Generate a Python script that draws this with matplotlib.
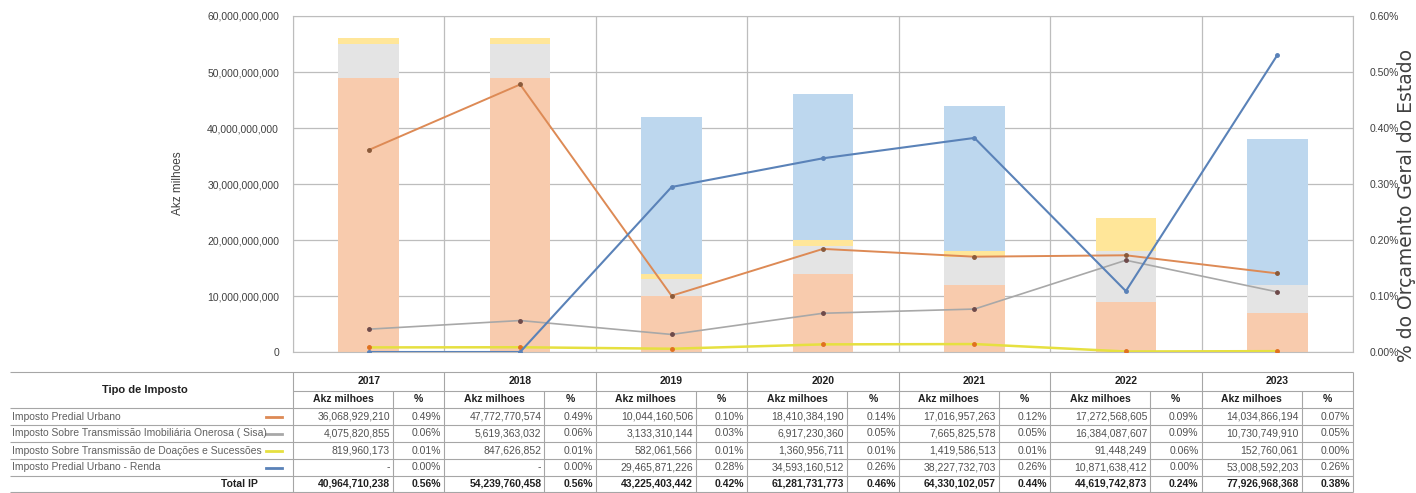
import matplotlib
matplotlib.use("Agg")
import matplotlib.pyplot as plt
import numpy as np

years = ['2017', '2018', '2019', '2020', '2021', '2022', '2023']
tax_names = [
    'Imposto Predial Urbano',
    'Imposto Sobre Transmissão Imobiliária Onerosa ( Sisa)',
    'Imposto Sobre Transmissão de Doações e Sucessões',
    'Imposto Predial Urbano - Renda',
]
ipu_akz = [36068929210, 47772770574, 10044160506, 18410384190, 17016957263, 17272568605, 14034866194]
sisa_akz = [4075820855, 5619363032, 3133310144, 6917230360, 7665825578, 16384087607, 10730749910]
doacoes_akz = [819960173, 847626852, 582061566, 1360956711, 1419586513, 91448249, 152760061]
renda_akz = [0, 0, 29465871226, 34593160512, 38227732703, 10871638412, 53008592203]
total_akz = [40964710238, 54239760458, 43225403442, 61281731773, 64330102057, 44619742873, 77926968368]

ipu_pct = [0.49, 0.49, 0.10, 0.14, 0.12, 0.09, 0.07]
sisa_pct = [0.06, 0.06, 0.03, 0.05, 0.05, 0.09, 0.05]
doacoes_pct = [0.01, 0.01, 0.01, 0.01, 0.01, 0.06, 0.00]
renda_pct = [0.00, 0.00, 0.28, 0.26, 0.26, 0.00, 0.26]
total_pct = [0.56, 0.56, 0.42, 0.46, 0.44, 0.24, 0.38]

left_ticks = [0, 10e9, 20e9, 30e9, 40e9, 50e9, 60e9]
right_ticks = [0.0, 0.1, 0.2, 0.3, 0.4, 0.5, 0.6]

bar_colors = ['#F8CBAD', '#E4E4E4', '#FFE699', '#BDD7EE']
line_colors = ['#DD8A55', '#A8A8A8', '#E6E040', '#5A82B8']
marker_colors = ['#8A5A3A', '#6E4A4A', '#E07020', '#5A82B8']

plt.rcParams['font.family'] = ['Liberation Sans', 'DejaVu Sans']

W, H = 1416, 493
fig = plt.figure(figsize=(W / 100, H / 100), dpi=100)
fig.patch.set_facecolor('white')

# plot area in pixels
p_left, p_right, p_top, p_bottom = 293, 1353, 16, 352
ax = fig.add_axes([p_left / W, 1 - p_bottom / H, (p_right - p_left) / W, (p_bottom - p_top) / H])

x = np.arange(len(years))

# stacked % bars (right axis scale)
base = np.zeros(len(years))
for vals, col in zip([ipu_pct, sisa_pct, doacoes_pct, renda_pct], bar_colors):
    ax.bar(x, vals, 0.4, bottom=base, color=col, zorder=2)
    base += np.array(vals)

ax.set_xlim(-0.5, len(years) - 0.5)
ax.set_ylim(0, 0.6)
ax.set_yticks(right_ticks)
ax.set_yticklabels([f'{v:.2f}%' for v in right_ticks])
ax.set_xticks(np.arange(-0.5, len(years), 1.0))
ax.set_xticklabels([])
ax.tick_params(length=0, labelsize=7.5, labelcolor='#404040', pad=12)
ax.grid(True, color='#BDBDBD', lw=0.9)
ax.set_axisbelow(True)
for s in ax.spines.values():
    s.set_color('#BDBDBD')

# Akz lines (left axis scale)
ax2 = ax.twinx()
ax.yaxis.set_ticks_position('right')
ax.yaxis.set_label_position('right')
ax2.yaxis.set_ticks_position('left')
ax2.yaxis.set_label_position('left')
ax2.set_ylim(0, 60e9)
ax2.set_yticks(left_ticks)
ax2.set_yticklabels([f'{int(v):,}' for v in left_ticks])
ax2.tick_params(length=0, labelsize=7.5, labelcolor='#404040', pad=10)
for s in ax2.spines.values():
    s.set_visible(False)

for vals, col, mc, lw in zip([ipu_akz, sisa_akz, doacoes_akz, renda_akz],
                             line_colors, marker_colors, [1.4, 1.2, 1.8, 1.5]):
    ax2.plot(x, vals, color=col, lw=lw, marker='o', ms=2.5,
             mfc=mc, mec=mc, zorder=3)

fig.text(178 / W, 1 - 183 / H, 'Akz milhoes', rotation=90, ha='center', va='center',
         fontsize=8.5, color='#404040')
fig.text(1407 / W, 1 - 205 / H, '% do Orçamento Geral do Estado', rotation=90,
         ha='center', va='center', fontsize=13.5, color='#404040',
         family=['DejaVu Sans'])

# --- data table below the chart, in pixel coordinates ---
tb = fig.add_axes([0, 0, 1, 1], zorder=-1)
tb.set_xlim(0, W)
tb.set_ylim(H, 0)
tb.axis('off')

gc = '#A6A6A6'
rows_y = [372, 391, 408, 425, 442, 459, 476, 492]
col_w = (p_right - p_left) / len(years)
akz_w = 100

tb.hlines([372, 408, 425, 442, 459, 476, 492], 10, p_right, color=gc, lw=0.8)
tb.hlines(391, p_left, p_right, color=gc, lw=0.8)
for i in range(len(years) + 1):
    tb.vlines(p_left + i * col_w, 372, 492, color=gc, lw=0.8)
for i in range(len(years)):
    tb.vlines(p_left + i * col_w + akz_w, 391, 492, color=gc, lw=0.8)

tb.text(145, 390, 'Tipo de Imposto', ha='center', va='center', fontsize=8,
        fontweight='bold', color='#202020')

for r, name in enumerate(tax_names):
    yc = (rows_y[r + 2] + rows_y[r + 3]) / 2
    tb.text(12, yc, name, ha='left', va='center', fontsize=7.5, color='#606060')
    tb.plot([266, 282], [yc, yc], color=line_colors[r], lw=2)
tb.text(258, (rows_y[6] + rows_y[7]) / 2, 'Total IP', ha='right', va='center',
        fontsize=7.5, fontweight='bold', color='#202020')

series_akz = [ipu_akz, sisa_akz, doacoes_akz, renda_akz, total_akz]
series_pct = [ipu_pct, sisa_pct, doacoes_pct, renda_pct, total_pct]
for i, yr in enumerate(years):
    cx = p_left + i * col_w
    tb.text(cx + col_w / 2, (rows_y[0] + rows_y[1]) / 2, yr, ha='center', va='center',
            fontsize=7.5, fontweight='bold', color='#202020')
    tb.text(cx + akz_w / 2, (rows_y[1] + rows_y[2]) / 2, 'Akz milhoes', ha='center',
            va='center', fontsize=7.5, fontweight='bold', color='#202020')
    tb.text(cx + akz_w + (col_w - akz_w) / 2, (rows_y[1] + rows_y[2]) / 2, '%',
            ha='center', va='center', fontsize=7.5, fontweight='bold', color='#202020')
    for r in range(5):
        yc = (rows_y[r + 2] + rows_y[r + 3]) / 2
        bold = r == 4
        v = series_akz[r][i]
        txt = f'{v:,}' if v else '-'
        tb.text(cx + akz_w - 3, yc, txt, ha='right', va='center', fontsize=7.5,
                fontweight='bold' if bold else 'normal',
                color='#202020' if bold else '#505050')
        tb.text(cx + col_w - 3, yc, f'{series_pct[r][i]:.2f}%', ha='right', va='center',
                fontsize=7.5, fontweight='bold' if bold else 'normal',
                color='#202020' if bold else '#505050')

fig.savefig('out.png', dpi=100)
